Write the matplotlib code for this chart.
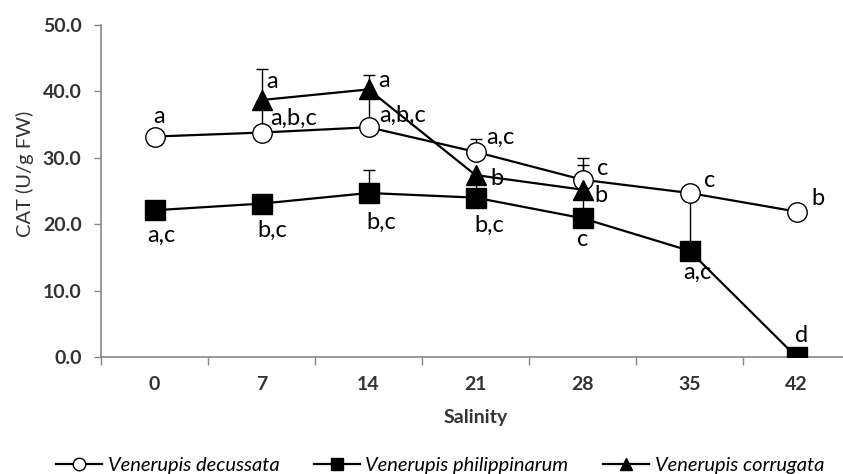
import matplotlib
matplotlib.use("Agg")
import matplotlib.pyplot as plt
from matplotlib.lines import Line2D
import numpy as np

plt.rcParams['font.family'] = ['Lato', 'DejaVu Sans']

# Datos
salinidad = ["0", "7", "14", "21", "28", "35", "42"]
decussata = [33.2, 33.8, 34.6, 30.9, 26.7, 24.7, 21.9]
philippinarum = [22.1, 23.1, 24.7, 24.0, 20.9, 16.0, 0.0]
corrugata = [np.nan, 38.7, 40.3, 27.4, 25.2, np.nan, np.nan]

# Barras de error (arriba / abajo)
dec_hi = [0, 0, 0, 2.0, 3.3, 0, 0]
dec_lo = [0, 0, 0, 0, 0, 0, 0]
phi_hi = [0, 0, 3.5, 0, 0, 8.7, 0]
phi_lo = [0, 0, 0, 0, 0, 0, 0]
cor_hi = [0, 4.6, 2.2, 0, 3.7, 0, 0]
cor_lo = [0, 4.5, 5.6, 3.3, 4.2, 0, 0]

# Letras de significancia
dec_txt = ["a", "a,b,c", "a,b,c", "a,c", "c", "c", "b"]
phi_txt = ["a,c", "b,c", "b,c", "b,c", "c", "a,c", "d"]
cor_txt = ["", "a", "a", "b", "b", "", ""]

# posiciones de las letras (pixeles, linea base) y alineacion
dec_off = [(5, 14, "center"), (9, 8, "left"), (11, 5, "left"), (11, 8, "left"),
           (14, 5, "left"), (14, 6, "left"), (15, 7, "left")]
phi_off = [(7, -32, "center"), (11, -33, "center"), (13, -36, "center"), (14, -34, "center"),
           (0, -28, "center"), (8, -28, "center"), (5, 15, "center")]
cor_off = [(0, 0, "left"), (5, 12, "left"), (10, 2, "left"), (15, -10, "left"),
           (12, -12, "left"), (0, 0, "left"), (0, 0, "left")]

x = np.arange(len(salinidad))
gris = "#898989"

fig = plt.figure(figsize=(8.43, 4.74), dpi=100)
ax = fig.add_axes([101/843, 117/474, 749/843, 332/474])

#Barras de error
for y, lo, hi in [(decussata, dec_lo, dec_hi), (philippinarum, phi_lo, phi_hi), (corrugata, cor_lo, cor_hi)]:
    ax.errorbar(x, y, yerr=[lo, hi], fmt="none", ecolor="black", elinewidth=1,
                capsize=4, capthick=1, zorder=1)

#Series
ax.plot(x, decussata, "-o", color="black", lw=1.6, ms=14, mfc="white", mec="black", mew=1, zorder=2)
ax.plot(x, philippinarum, "-s", color="black", lw=1.6, ms=14, mfc="black", zorder=3)
ax.plot(x, corrugata, "-^", color="black", lw=1.6, ms=14.5, mfc="black", zorder=4)

#Letras
for serie, txt, off in [(decussata, dec_txt, dec_off), (philippinarum, phi_txt, phi_off), (corrugata, cor_txt, cor_off)]:
    for i in range(len(x)):
        if txt[i] == "":
            continue
        dx, dy, ha = off[i]
        ax.annotate(txt[i], (x[i], serie[i]), xytext=(dx, dy), textcoords="offset pixels",
                    ha=ha, va="baseline", fontsize=17, zorder=6)

#Ejes
ax.set_xlim(-0.5, 6.5)
ax.set_ylim(0, 50)
ax.set_yticks(np.arange(0, 51, 10))
ax.set_yticklabels([f"{v:.1f}" for v in np.arange(0, 51, 10)])
ax.set_xticks(np.arange(-0.5, 7, 1))
ax.set_xticklabels([])
ax.set_xticks(x, minor=True)
ax.set_xticklabels(salinidad, minor=True)
ax.tick_params(axis="x", which="major", direction="out", length=6, color=gris, width=1)
ax.tick_params(axis="x", which="minor", length=0, pad=14, labelsize=14, labelcolor="#333333")
ax.tick_params(axis="y", direction="out", length=5, color=gris, width=1, pad=9,
               labelsize=14, labelcolor="#333333")
for lab in ax.get_yticklabels() + ax.get_xticklabels(minor=True):
    lab.set_fontweight("bold")
for s in ["top", "right"]:
    ax.spines[s].set_visible(False)
for s in ["left", "bottom"]:
    ax.spines[s].set_color(gris)
    ax.spines[s].set_linewidth(1.2)

ax.set_xlabel("Salinity", fontsize=14, fontweight="bold", color="#333333", va="center")
ax.xaxis.set_label_coords(0.5, (357 - 418) / 332)
ax.set_ylabel("CAT (U/g FW)", fontsize=14.5, color="#333333", va="center")
ax.yaxis.set_label_coords((25 - 101) / 749, (357 - 174) / 332)

#Leyenda
handles = [
    Line2D([], [], color="black", lw=1.6, marker="o", ms=9, mfc="white", mec="black"),
    Line2D([], [], color="black", lw=1.6, marker="s", ms=9, mfc="black"),
    Line2D([], [], color="black", lw=1.6, marker="^", ms=9, mfc="black"),
]
nombres = ["Venerupis decussata", "Venerupis philippinarum", "Venerupis corrugata"]
fig.legend(handles, nombres, loc="center", bbox_to_anchor=(440/843, 9/474), ncol=3,
           frameon=False, prop={"style": "italic", "size": 14.5}, handlelength=2.3,
           handletextpad=0.27, columnspacing=1.7)

plt.savefig("out.png", dpi=100)
